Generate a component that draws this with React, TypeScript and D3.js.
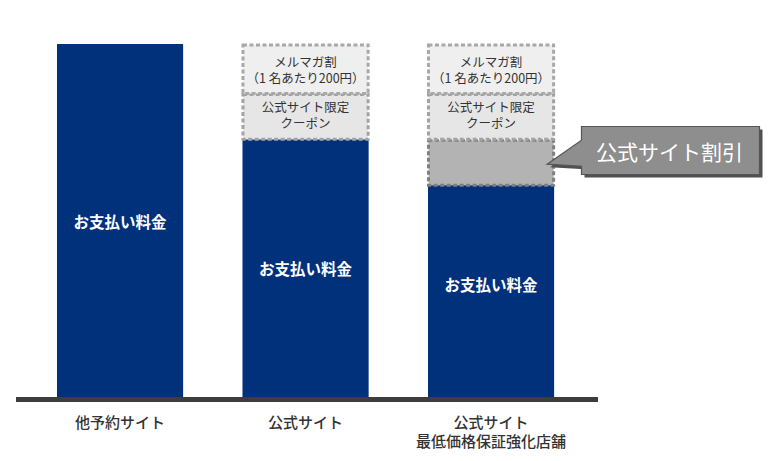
import React from "react";
import * as d3 from "d3";

const categories = ["他予約サイト", "公式サイト", "公式サイト\n最低価格保証強化店舗"];
const payValues = [100, 73, 60];
const discountValues = [0, 0, 13];
const couponValues = [0, 13, 13];
const mailValues = [0, 14, 14];

const payLabel = "お支払い料金";
const discountLabel = "公式サイト割引";
const couponLabel = ["公式サイト限定", "クーポン"];
const mailLabel = ["メルマガ割", "（1 名あたり200円）"];

const W = 778;
const H = 461;
const FONT = "'Noto Sans CJK JP', 'Noto Sans', sans-serif";

export default function App() {
  const x = d3
    .scaleBand<string>()
    .domain(categories)
    .range([27.3, 583.8])
    .paddingInner(0.32)
    .paddingOuter(0.16);
  const y = d3.scaleLinear().domain([0, 100]).range([397, 44]);
  const bw = x.bandwidth();

  const segs: any[] = [];
  categories.forEach((c, i) => {
    let base = 0;
    const push = (v: number, kind: string) => {
      if (v > 0) segs.push({ c, i, y0: base, y1: base + v, kind });
      base += v;
    };
    push(payValues[i], "pay");
    push(discountValues[i], "discount");
    push(couponValues[i], "coupon");
    push(mailValues[i], "mail");
  });

  const style: Record<string, any> = {
    pay: { fill: "#02317b", stroke: "none", dash: "" },
    discount: { fill: "#b3b3b3", stroke: "#808080", dash: "4 2.5" },
    coupon: { fill: "#e6e6e6", stroke: "#a3a3a3", dash: "4 2.5" },
    mail: { fill: "#efefef", stroke: "#a8a8a8", dash: "4 2.5" },
  };

  const dSeg = segs.find((s) => s.kind === "discount");
  const tipX = (x(dSeg.c) as number) + bw - 7;
  const tipY = y(dSeg.y0) - 21;
  const bx0 = 581.5;
  const bx1 = 759.5;
  const by0 = 126.5;
  const by1 = 174.5;
  const calloutPath = `M${bx0},${by0} L${bx1},${by0} L${bx1},${by1} L${bx0},${by1} L${bx0},${tipY + 2} L${tipX},${tipY} L${bx0},${tipY - 24} Z`;

  return (
    <svg width={W} height={H} style={{ display: "block", position: "absolute", left: 0, top: 0 }} fontFamily={FONT}>
      <rect width={W} height={H} fill="#fff" />
      {segs.map((s, k) => {
        const st = style[s.kind];
        const x0 = x(s.c) as number;
        const yt = y(s.y1);
        const yb = y(s.y0);
        if (s.kind === "pay") {
          return <rect key={k} x={x0} y={yt} width={bw} height={yb - yt} fill={st.fill} />;
        }
        return (
          <rect
            key={k}
            x={x0 + 0.5}
            y={yt + 1}
            width={bw - 1}
            height={yb - yt - 1}
            fill={st.fill}
            stroke={st.stroke}
            strokeWidth={3}
            strokeDasharray={st.dash}
          />
        );
      })}
      {segs.map((s, k) => {
        const cx = (x(s.c) as number) + bw / 2;
        const cy = (y(s.y0) + y(s.y1)) / 2;
        if (s.kind === "pay") {
          const off = s.i === 2 ? -7 : 0;
          return (
            <text key={"t" + k} x={cx} y={cy + off} textAnchor="middle" dominantBaseline="central" fill="#fff" fontSize={15.5} fontWeight="bold">
              {payLabel}
            </text>
          );
        }
        const lines = s.kind === "coupon" ? couponLabel : s.kind === "mail" ? mailLabel : [];
        if (!lines.length) return null;
        const top = cy - ((lines.length - 1) / 2) * 16 - (s.kind === "coupon" ? 2 : 0);
        return (
          <text key={"t" + k} textAnchor="middle" dominantBaseline="central" fill="#333" fontSize={12.5}>
            {lines.map((ln, j) => (
              <tspan key={j} x={cx} y={top + j * 16}>
                {ln}
              </tspan>
            ))}
          </text>
        );
      })}
      <rect x={16} y={397} width={582} height={5} fill="#3d3d3d" />
      {categories.map((c) => {
        const cx = (x(c) as number) + bw / 2;
        const lines = c.split("\n");
        return (
          <text key={c} textAnchor="middle" dominantBaseline="central" fill="#333" fontSize={15} fontWeight={500}>
            {lines.map((ln, j) => (
              <tspan key={j} x={cx} y={421 + j * 19}>
                {ln}
              </tspan>
            ))}
          </text>
        );
      })}
      <path d={calloutPath} transform="translate(3,3)" fill="#505050" />
      <path d={calloutPath} fill="#8e8e8e" stroke="#555" strokeWidth={1.2} />
      <text x={(bx0 + bx1) / 2 - 1} y={(by0 + by1) / 2} textAnchor="middle" dominantBaseline="central" fill="#fff" fontSize={21}>
        {discountLabel}
      </text>
    </svg>
  );
}
